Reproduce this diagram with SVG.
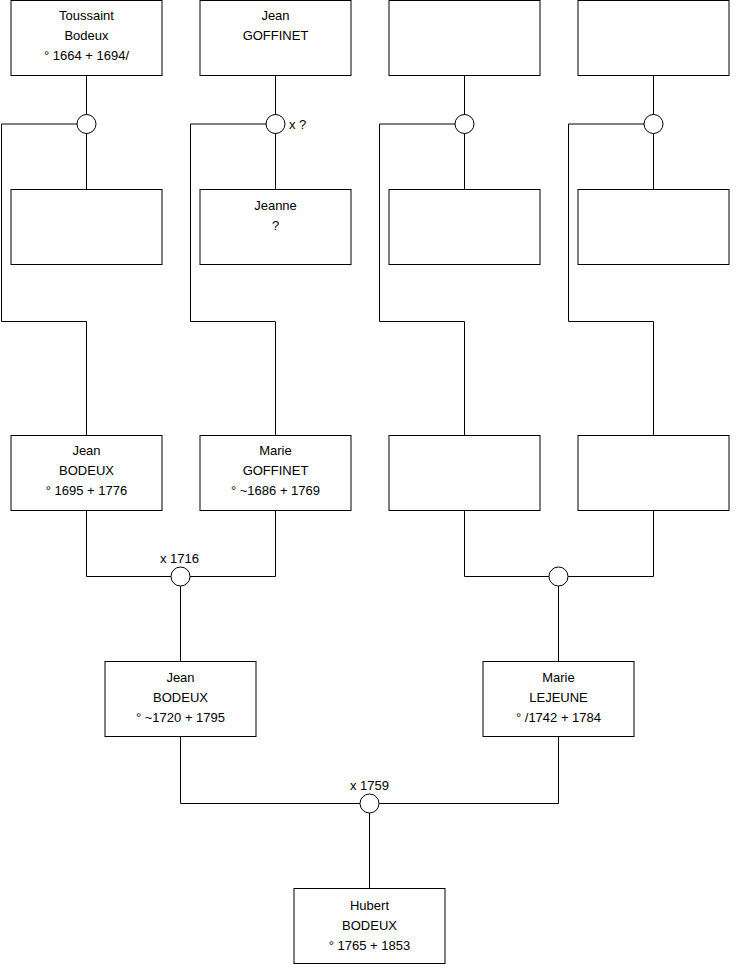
<svg xmlns="http://www.w3.org/2000/svg" width="740" height="975" viewBox="0 0 740 975">
<style>
.box{fill:#fff;stroke:#000;stroke-width:1}
.ln{fill:none;stroke:#000;stroke-width:1}
.cir{fill:#fff;stroke:#000;stroke-width:1}
text{font-family:"Liberation Sans",Arial,sans-serif;font-size:13px;fill:#000}
.c{text-anchor:middle}
</style>
<rect width="740" height="975" fill="#fff"/>
<g id="connectors">
<path class="ln" d="M86.5 76 V189.5 M86.5 124 H1.5 V321.5 H86.5 V435.5"/>
<path class="ln" d="M275.5 76 V189.5 M275.5 124 H190.5 V321.5 H275.5 V435.5"/>
<path class="ln" d="M464.5 76 V189.5 M464.5 124 H379.5 V321.5 H464.5 V435.5"/>
<path class="ln" d="M653.5 76 V189.5 M653.5 124 H568.5 V321.5 H653.5 V435.5"/>
<path class="ln" d="M86.5 510.5 V576.5 H275.5 V510.5 M180.5 576.5 V661.5"/>
<path class="ln" d="M464.5 510.5 V576.5 H653.5 V510.5 M558.5 576.5 V661.5"/>
<path class="ln" d="M180.5 736.5 V803.5 H558.5 V736.5 M369.5 803.5 V888.5"/>
<circle class="cir" cx="86.5" cy="124" r="9.5"/>
<circle class="cir" cx="275.5" cy="124" r="9.5"/>
<circle class="cir" cx="464.5" cy="124" r="9.5"/>
<circle class="cir" cx="653.5" cy="124" r="9.5"/>
<circle class="cir" cx="180.5" cy="576.5" r="9.5"/>
<circle class="cir" cx="558.5" cy="576.5" r="9.5"/>
<circle class="cir" cx="369.5" cy="803.5" r="9.5"/>
<text x="289" y="128.5">x ?</text>
<text x="160" y="562.5">x 1716</text>
<text x="350" y="789.5">x 1759</text>
</g>
<g id="n1"><rect class="box" x="11" y="0.5" width="151" height="75"/>
<text class="c" x="86.5" y="20">Toussaint</text><text class="c" x="86.5" y="40">Bodeux</text><text class="c" x="86.5" y="60">° 1664 + 1694/</text></g>
<g id="n2"><rect class="box" x="200" y="0.5" width="151" height="75"/>
<text class="c" x="275.5" y="20">Jean</text><text class="c" x="275.5" y="40">GOFFINET</text></g>
<g id="n3"><rect class="box" x="389" y="0.5" width="151" height="75"/></g>
<g id="n4"><rect class="box" x="578" y="0.5" width="151" height="75"/></g>
<g id="n5"><rect class="box" x="11" y="189.5" width="151" height="75"/></g>
<g id="n6"><rect class="box" x="200" y="189.5" width="151" height="75"/>
<text class="c" x="275.5" y="209.5">Jeanne</text><text class="c" x="275.5" y="229.5">?</text></g>
<g id="n7"><rect class="box" x="389" y="189.5" width="151" height="75"/></g>
<g id="n8"><rect class="box" x="578" y="189.5" width="151" height="75"/></g>
<g id="n9"><rect class="box" x="11" y="435.5" width="151" height="75"/>
<text class="c" x="86.5" y="455">Jean</text><text class="c" x="86.5" y="475">BODEUX</text><text class="c" x="86.5" y="495">° 1695 + 1776</text></g>
<g id="n10"><rect class="box" x="200" y="435.5" width="151" height="75"/>
<text class="c" x="275.5" y="455">Marie</text><text class="c" x="275.5" y="475">GOFFINET</text><text class="c" x="275.5" y="495">° ~1686 + 1769</text></g>
<g id="n11"><rect class="box" x="389" y="435.5" width="151" height="75"/></g>
<g id="n12"><rect class="box" x="578" y="435.5" width="151" height="75"/></g>
<g id="n13"><rect class="box" x="105" y="661.5" width="151" height="75"/>
<text class="c" x="180.5" y="681.5">Jean</text><text class="c" x="180.5" y="701.5">BODEUX</text><text class="c" x="180.5" y="721.5">° ~1720 + 1795</text></g>
<g id="n14"><rect class="box" x="483" y="661.5" width="151" height="75"/>
<text class="c" x="558.5" y="681.5">Marie</text><text class="c" x="558.5" y="701.5">LEJEUNE</text><text class="c" x="558.5" y="721.5">° /1742 + 1784</text></g>
<g id="n15"><rect class="box" x="294" y="888.5" width="151" height="75"/>
<text class="c" x="369.5" y="910">Hubert</text><text class="c" x="369.5" y="930">BODEUX</text><text class="c" x="369.5" y="950">° 1765 + 1853</text></g>
</svg>
